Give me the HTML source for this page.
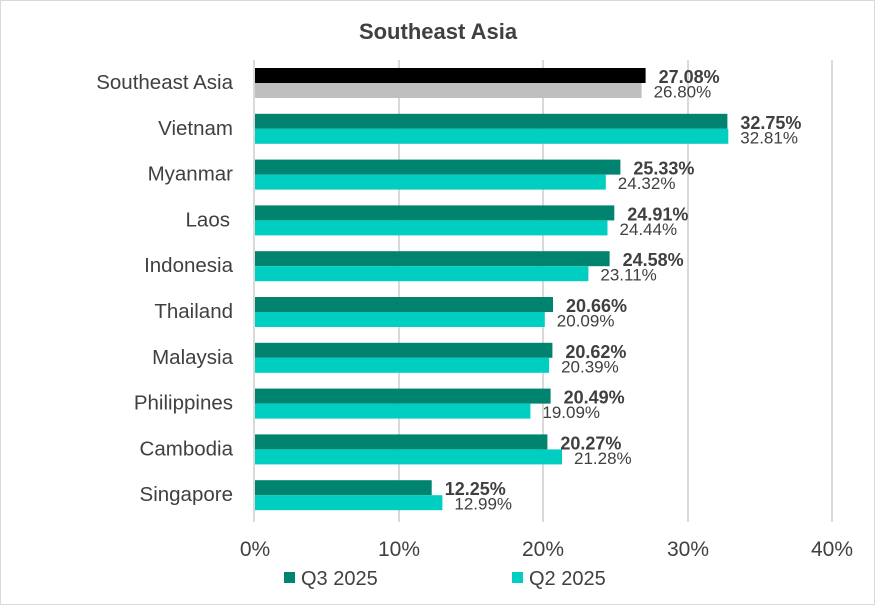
<!DOCTYPE html>
<html><head><meta charset="utf-8"><style>
html,body{margin:0;padding:0;background:#fff}
svg{display:block;font-family:"Liberation Sans",sans-serif}
</style></head><body>
<svg width="875" height="605" viewBox="0 0 875 605" xmlns="http://www.w3.org/2000/svg">
<rect x="0.5" y="0.5" width="874" height="604" fill="#fff" stroke="#d9d9d9"/>
<text x="438" y="39" text-anchor="middle" font-size="22" font-weight="bold" fill="#404040">Southeast Asia</text>
<g stroke="#d9d9d9" stroke-width="2">
<line x1="399" y1="60" x2="399" y2="522"/><line x1="543" y1="60" x2="543" y2="522"/>
<line x1="688" y1="60" x2="688" y2="522"/><line x1="832" y1="60" x2="832" y2="522"/>
<line x1="254" y1="60" x2="254" y2="522"/>
</g>
<g>
<rect x="255" y="68" width="390.6" height="15" fill="#000"/>
<rect x="255" y="83" width="386.6" height="15" fill="#BFBFBF"/>
<rect x="255" y="113.8" width="472.4" height="15" fill="#00836F"/>
<rect x="255" y="128.8" width="473.3" height="15" fill="#00CEC1"/>
<rect x="255" y="159.6" width="365.4" height="15" fill="#00836F"/>
<rect x="255" y="174.6" width="350.8" height="15" fill="#00CEC1"/>
<rect x="255" y="205.4" width="359.3" height="15" fill="#00836F"/>
<rect x="255" y="220.4" width="352.5" height="15" fill="#00CEC1"/>
<rect x="255" y="251.2" width="354.6" height="15" fill="#00836F"/>
<rect x="255" y="266.2" width="333.4" height="15" fill="#00CEC1"/>
<rect x="255" y="297" width="298.0" height="15" fill="#00836F"/>
<rect x="255" y="312" width="289.8" height="15" fill="#00CEC1"/>
<rect x="255" y="342.8" width="297.4" height="15" fill="#00836F"/>
<rect x="255" y="357.8" width="294.1" height="15" fill="#00CEC1"/>
<rect x="255" y="388.6" width="295.6" height="15" fill="#00836F"/>
<rect x="255" y="403.6" width="275.4" height="15" fill="#00CEC1"/>
<rect x="255" y="434.4" width="292.4" height="15" fill="#00836F"/>
<rect x="255" y="449.4" width="307.0" height="15" fill="#00CEC1"/>
<rect x="255" y="480.2" width="176.7" height="15" fill="#00836F"/>
<rect x="255" y="495.2" width="187.4" height="15" fill="#00CEC1"/>
</g>
<g font-size="20.5" fill="#404040" text-anchor="end">
<text x="233" y="89">Southeast Asia</text>
<text x="233" y="134.8">Vietnam</text>
<text x="233" y="180.6">Myanmar</text>
<text x="230" y="226.4">Laos</text>
<text x="233" y="272.2">Indonesia</text>
<text x="233" y="318">Thailand</text>
<text x="233" y="363.8">Malaysia</text>
<text x="233" y="409.6">Philippines</text>
<text x="233" y="455.4">Cambodia</text>
<text x="233" y="501.2">Singapore</text>
</g>
<g font-size="18" font-weight="bold" fill="#404040">
<text x="658.6" y="83">27.08%</text>
<text x="740.4" y="128.8">32.75%</text>
<text x="633.4" y="174.6">25.33%</text>
<text x="627.3" y="220.4">24.91%</text>
<text x="622.6" y="266.2">24.58%</text>
<text x="566.0" y="312">20.66%</text>
<text x="565.4" y="357.8">20.62%</text>
<text x="563.6" y="403.6">20.49%</text>
<text x="560.4" y="449.4">20.27%</text>
<text x="444.7" y="495.2">12.25%</text>
</g>
<g font-size="17" fill="#404040">
<text x="653.6" y="97.5">26.80%</text>
<text x="740.3" y="143.3">32.81%</text>
<text x="617.8" y="189.1">24.32%</text>
<text x="619.5" y="234.9">24.44%</text>
<text x="600.4" y="280.7">23.11%</text>
<text x="556.8" y="326.5">20.09%</text>
<text x="561.1" y="372.3">20.39%</text>
<text x="542.4" y="418.1">19.09%</text>
<text x="574.0" y="463.9">21.28%</text>
<text x="454.4" y="509.7">12.99%</text>
</g>
<g font-size="21" fill="#404040" text-anchor="middle">
<text x="255" y="556">0%</text><text x="399" y="556">10%</text><text x="543" y="556">20%</text><text x="688" y="556">30%</text><text x="832" y="556">40%</text>
</g>
<rect x="284" y="572" width="11" height="11" fill="#00836F"/>
<text x="301" y="585" font-size="20" fill="#404040">Q3 2025</text>
<rect x="512" y="572" width="11" height="11" fill="#00CEC1"/>
<text x="529" y="585" font-size="20" fill="#404040">Q2 2025</text>
</svg>
</body></html>
